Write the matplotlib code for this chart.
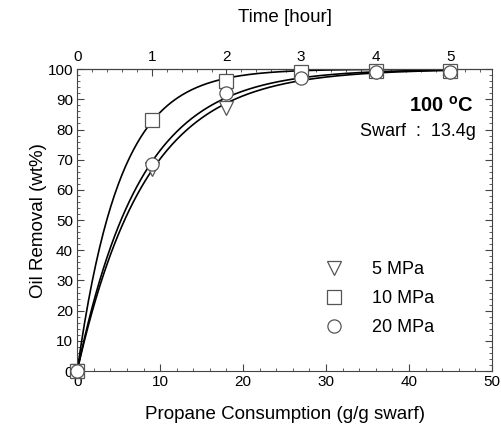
import numpy as np
import matplotlib
matplotlib.use("Agg")
import matplotlib.pyplot as plt
from matplotlib.ticker import MultipleLocator

plt.rcParams['font.family'] = ['Liberation Sans', 'DejaVu Sans']

# propane consumption (g/g swarf), one point per hour
consumption = [0, 9, 18, 27, 36, 45]
removal_5mpa = [0, 67, 87, 98, 99, 99]
removal_10mpa = [0, 83, 96, 99, 99.5, 99.5]
removal_20mpa = [0, 68.5, 92, 97, 99, 99]
hours = [0, 1, 2, 3, 4, 5]
g_per_hour = 9.0


def fit_rate(x, y):
    # least-squares fit of y = 100 (1 - exp(-k x)) over a k grid
    x = np.asarray(x, float)
    y = np.asarray(y, float)
    ks = np.linspace(0.01, 1.0, 5000)
    sse = [np.sum((y - 100 * (1 - np.exp(-k * x))) ** 2) for k in ks]
    return ks[int(np.argmin(sse))]


fig = plt.figure(figsize=(5.01, 4.32), dpi=100)
ax = fig.add_axes([0.154, 0.141, 0.828, 0.699])

xs = np.linspace(0, 45, 300)
series = [
    (removal_5mpa, 'v', '5 MPa'),
    (removal_10mpa, 's', '10 MPa'),
    (removal_20mpa, 'o', '20 MPa'),
]
for vals, mk, lab in series:
    k = fit_rate(consumption, vals)
    ax.plot(xs, 100 * (1 - np.exp(-k * xs)), color='black', lw=1.2, zorder=2)
    ax.plot(consumption, vals, linestyle='none', marker=mk, markersize=9.5,
            markerfacecolor='white', markeredgecolor='#555555',
            markeredgewidth=0.9, label=lab, zorder=3, clip_on=False)

ax.set_xlim(0, 50)
ax.set_ylim(0, 100)
ax.xaxis.set_major_locator(MultipleLocator(10))
ax.xaxis.set_minor_locator(MultipleLocator(2))
ax.yaxis.set_major_locator(MultipleLocator(10))
ax.yaxis.set_minor_locator(MultipleLocator(2))
ax.tick_params(which='both', direction='in', right=True, labelsize=11,
               color='#444444', pad=3)
ax.tick_params(which='major', length=5)
ax.tick_params(which='minor', length=2.5)
for sp in ax.spines.values():
    sp.set_color('#444444')
    sp.set_linewidth(0.8)

ax.set_xlabel('Propane Consumption (g/g swarf)', fontsize=13.5, labelpad=12)
ax.set_ylabel('Oil Removal (wt%)', fontsize=13.5, labelpad=0)

# top axis: time in hours
top = ax.secondary_xaxis('top', functions=(lambda x: x / g_per_hour,
                                           lambda t: t * g_per_hour))
top.set_xticks(hours)
top.xaxis.set_minor_locator(MultipleLocator(0.2))
top.tick_params(which='both', direction='in', labelsize=11, color='#444444')
top.tick_params(which='major', length=5)
top.tick_params(which='minor', length=2.5)
top.set_xlabel('Time [hour]', fontsize=13.5, labelpad=20)

ax.text(0.955, 0.88, '100 $^{\\mathregular{o}}$C', transform=ax.transAxes,
        ha='right', va='center', fontsize=14.5, fontweight='bold')
ax.text(0.962, 0.795, 'Swarf  :  13.4g', transform=ax.transAxes,
        ha='right', va='center', fontsize=13)

ax.legend(loc='center left', bbox_to_anchor=(0.555, 0.24), frameon=False,
          fontsize=13, handletextpad=1.1, labelspacing=0.65, borderpad=0)

fig.savefig('out.png', dpi=100)
